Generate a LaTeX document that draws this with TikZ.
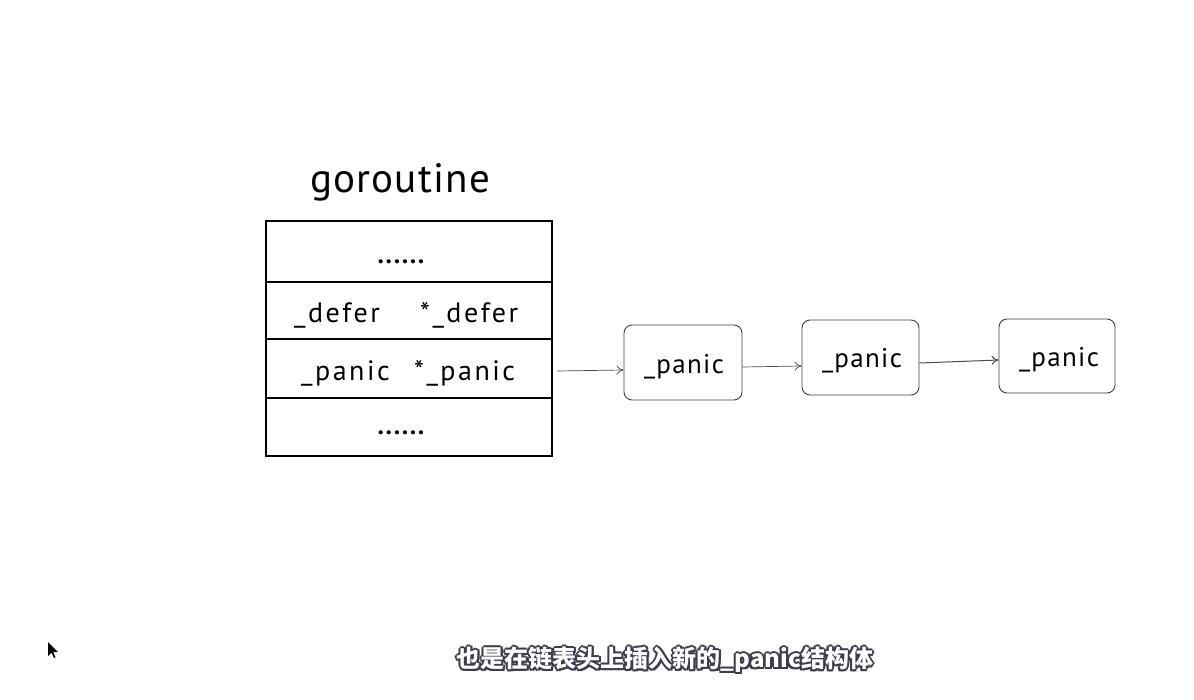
\documentclass[tikz,border=0pt]{standalone}
\usepackage{fontspec}
\usetikzlibrary{arrows.meta}
\newfontfamily\titlefont[LetterSpace=3]{PT Sans}
\newfontfamily\handfont[LetterSpace=9]{PT Sans}
\newfontfamily\boxfont[LetterSpace=5]{PT Sans}
\newfontfamily\cjk{Noto Sans CJK SC}
\definecolor{outl}{HTML}{3C3C4C}
\tikzset{
  cell/.style={draw, line width=1.3pt, minimum width=286pt, inner sep=0pt},
  celltext/.style={anchor=base west, inner sep=0pt, font=\handfont\fontsize{28}{30}\selectfont},
  pbox/.style={draw=black!75, line width=0.9pt, rounded corners=8pt, inner sep=0pt},
  ptext/.style={anchor=base, inner sep=0pt, font=\boxfont\fontsize{27}{30}\selectfont},
  dots/.style={anchor=base, inner sep=0pt, font=\boxfont\bfseries\fontsize{26}{27}\selectfont},
  link/.style={draw=black!70, line width=0.7pt, -{To[length=7pt,width=9pt]}},
  sub/.style={font=\cjk\bfseries\fontsize{24}{28}\selectfont, inner sep=0pt}
}
\newcommand{\subtxt}{也是在链表头上插入新的\_panic结构体}
\newcommand{\shiftcopy}[2]{\rlap{\hspace*{#1}\raisebox{#2}{\subtxt}}}
\newcommand{\outlinedsub}{%
  {\color{outl}\shiftcopy{-2pt}{0pt}\shiftcopy{2pt}{0pt}\shiftcopy{0pt}{2pt}\shiftcopy{0pt}{-2pt}%
  \shiftcopy{-1.5pt}{1.5pt}\shiftcopy{1.5pt}{1.5pt}\shiftcopy{-1.5pt}{-1.5pt}\shiftcopy{1.5pt}{-1.5pt}}%
  {\color{white}\subtxt}}
\begin{document}
\begin{tikzpicture}[x=1pt,y=-1pt]
\useasboundingbox[fill=white] (0,0) rectangle (1194,699);
% title
\node[font=\titlefont\fontsize{41}{44}\selectfont, inner sep=0pt, anchor=base] (title) at (400,192) {goroutine};
% table
\node[cell, minimum height=61pt] (r1) at (409,251.5) {};
\node[cell, minimum height=57pt] (r2) at (409,310.5) {};
\node[cell, minimum height=59pt] (r3) at (409,368.5) {};
\node[cell, minimum height=58pt] (r4) at (409,427) {};
\node[dots] (t1) at (401,263) {......};
\node[celltext] (t2a) at (294,322) {\_defer};
\node[celltext] (t2b) at (420,322) {*\_defer};
\node[celltext] (t3a) at (301,380) {\_panic};
\node[celltext] (t3b) at (414,380) {*\_panic};
\node[dots] (t4) at (401,434) {......};
% panic nodes
\node[pbox, minimum width=118pt, minimum height=75pt] (p1) at (683,362.5) {};
\node[pbox, minimum width=117pt, minimum height=75pt] (p2) at (860.5,357.5) {};
\node[pbox, minimum width=116pt, minimum height=74pt] (p3) at (1057,356) {};
\node[ptext] (l1) at (684,373) {\_panic};
\node[ptext] (l2) at (862,367) {\_panic};
\node[ptext] (l3) at (1059,366) {\_panic};
% links
\coordinate (s0) at (557,371);
\draw[link] (s0) -- (p1.west |- 0,370);
\draw[link] (p1.east |- 0,367) -- (p2.west |- 0,366);
\draw[link, line width=1pt] (p2.east |- 0,363) -- (p3.west |- 0,360);
% cursor
\fill[black] (48,642) -- (48,656) -- (51.5,652.5) -- (54,658) -- (55.5,657.3) -- (53.2,652) -- (58,652) -- cycle;
% subtitle with outline
\node[sub] (subt) at (665,660) {\outlinedsub};
\end{tikzpicture}
\end{document}
